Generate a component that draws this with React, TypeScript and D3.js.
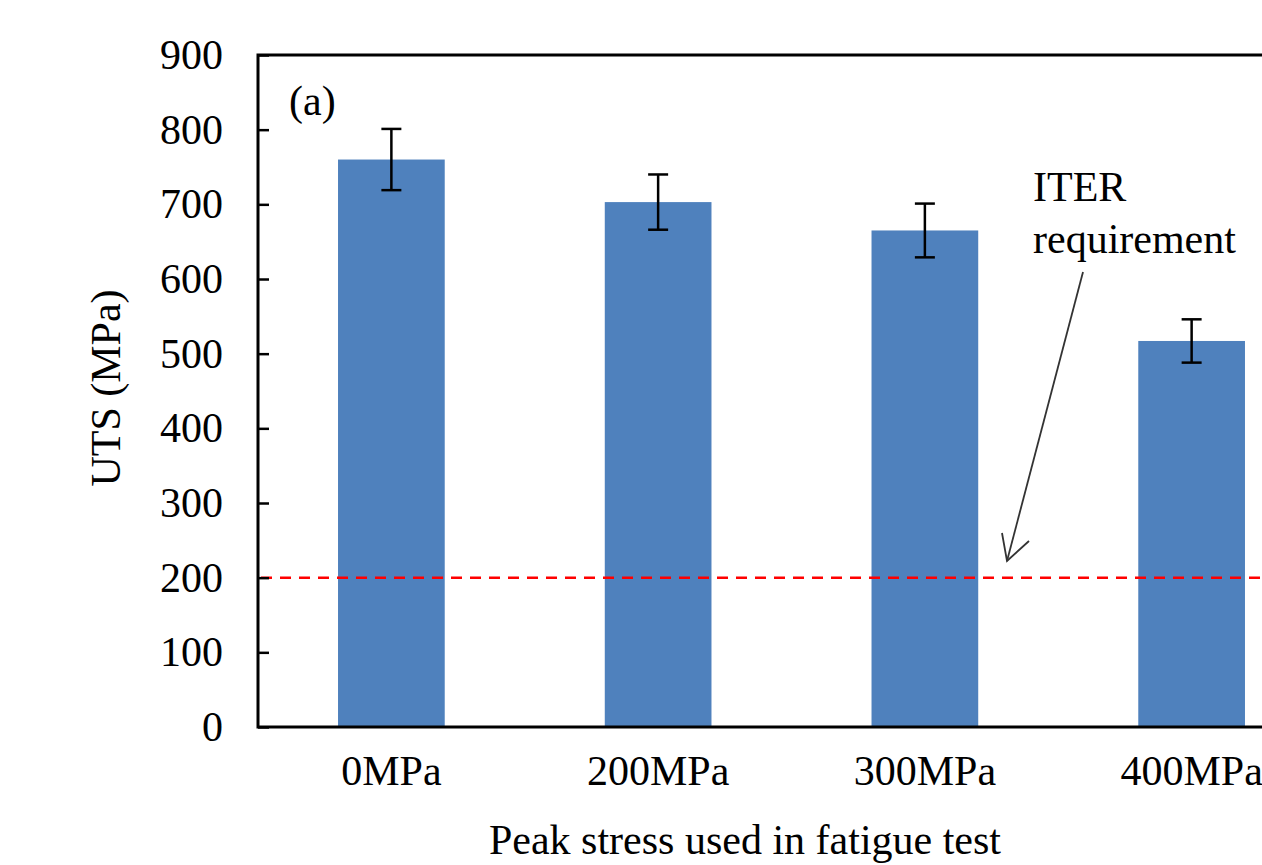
import React, { useEffect, useRef } from 'react';
import * as d3 from 'd3';

const width = 1262;
const height = 865;
const margin = { top: 55, right: -63, bottom: 138, left: 258 };
const barColor = '#4f81bd';
const font = '"Liberation Serif", "Times New Roman", serif';

// data
const categories = ['0MPa', '200MPa', '300MPa', '400MPa'];
const uts = [760, 703, 665, 517];
const utsErr = [41, 37, 36, 29];
const yTicks = [0, 100, 200, 300, 400, 500, 600, 700, 800, 900];
const iterRequirement = 200;

const xScale = d3
  .scaleBand<string>()
  .domain(categories)
  .range([margin.left, width - margin.right])
  .paddingInner(0.6)
  .paddingOuter(0.3);

const yScale = d3
  .scaleLinear()
  .domain([0, 900])
  .range([height - margin.bottom, margin.top]);

export default function App() {
  const yAxisRef = useRef<SVGGElement>(null);

  useEffect(() => {
    const yAxis = d3
      .axisLeft(yScale)
      .tickValues(yTicks)
      .tickSizeInner(-11)
      .tickSizeOuter(0)
      .tickPadding(35);
    const g = d3.select(yAxisRef.current);
    g.call(yAxis);
    g.select('.domain').remove();
    g.selectAll('.tick line').attr('stroke', '#000').attr('stroke-width', 2.5);
    g.selectAll('.tick text')
      .attr('fill', '#000')
      .style('font-family', font)
      .style('font-size', '42px');
  }, []);

  const bw = xScale.bandwidth();
  const y0 = yScale(0);
  const cap = 10;

  return (
    <svg
      width={width}
      height={height}
      style={{ position: 'absolute', left: 0, top: 0, display: 'block', background: '#fff' }}
    >
      {categories.map((c, i) => (
        <rect
          key={c}
          x={xScale(c)}
          y={yScale(uts[i])}
          width={bw}
          height={y0 - yScale(uts[i])}
          fill={barColor}
        />
      ))}

      {/* ITER requirement line */}
      <line
        x1={margin.left + 3}
        x2={width - margin.right}
        y1={yScale(iterRequirement)}
        y2={yScale(iterRequirement)}
        stroke="#ff0000"
        strokeWidth={2.5}
        strokeDasharray="11,8"
      />

      {categories.map((c, i) => {
        const cx = (xScale(c) as number) + bw / 2;
        const hi = yScale(uts[i] + utsErr[i]);
        const lo = yScale(uts[i] - utsErr[i]);
        return (
          <g key={c} stroke="#000" strokeWidth={2.5}>
            <line x1={cx} x2={cx} y1={hi} y2={lo} />
            <line x1={cx - cap} x2={cx + cap} y1={hi} y2={hi} />
            <line x1={cx - cap} x2={cx + cap} y1={lo} y2={lo} />
          </g>
        );
      })}

      {/* plot frame */}
      <rect
        x={margin.left}
        y={yScale(900)}
        width={width - margin.right - margin.left}
        height={y0 - yScale(900)}
        fill="none"
        stroke="#000"
        strokeWidth={3}
      />

      <g ref={yAxisRef} transform={`translate(${margin.left}, 0)`} />

      <g fontFamily={font} fontSize={42} fill="#000">
        {categories.map(c => (
          <text key={c} x={(xScale(c) as number) + bw / 2} y={785} textAnchor="middle">
            {c}
          </text>
        ))}
        <text x={745} y={854} textAnchor="middle">
          Peak stress used in fatigue test
        </text>
        <text transform="translate(120, 388) rotate(-90)" textAnchor="middle">
          UTS (MPa)
        </text>
        <text x={289} y={115}>(a)</text>
        <text x={1033} y={201}>ITER</text>
        <text x={1033} y={253}>requirement</text>
      </g>

      {/* annotation arrow */}
      <g stroke="#333" strokeWidth={1.8} fill="none">
        <line x1={1083} y1={272} x2={1007} y2={561} />
        <polyline points="1002,533 1007,561 1029,541" />
      </g>
    </svg>
  );
}
